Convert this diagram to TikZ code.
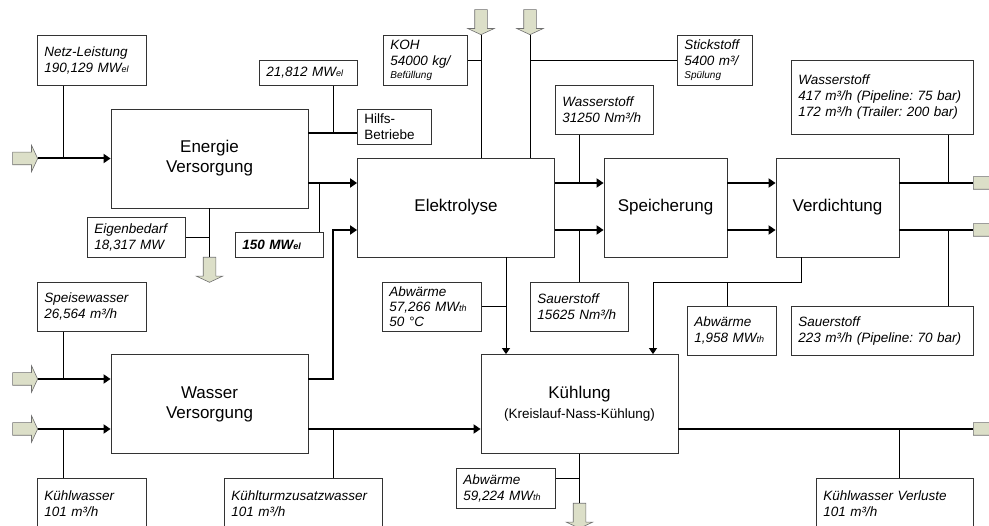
\documentclass[tikz,border=0pt]{standalone}
\usepackage{fontspec}
\setmainfont{Liberation Sans}
\usetikzlibrary{arrows.meta, shapes.arrows, positioning}
\definecolor{boxline}{HTML}{333333}
\definecolor{feedfill}{HTML}{DCDFC8}
\definecolor{feedline}{HTML}{6F6F6F}
\newcommand{\unitsub}[1]{{\fontsize{9}{9}\selectfont #1}}
\frenchspacing

\begin{document}
\begin{tikzpicture}[x=1pt, y=-1pt,
  unit/.style={rectangle, draw=boxline, line width=0.8pt, minimum width=197pt,
               minimum height=99pt, align=center, font=\fontsize{17}{20}\selectfont},
  info/.style={rectangle, draw=boxline, line width=0.8pt, anchor=north west,
               align=left, inner xsep=7pt, inner ysep=1pt,
               font=\fontsize{13.5}{16}\selectfont\itshape},
  feed/.style={single arrow, draw=feedline, fill=feedfill, line width=0.6pt,
               minimum height=25pt, inner sep=6pt, single arrow head extend=7pt,
               single arrow tip angle=130},
  flow/.style={line width=2pt, -{Triangle[length=7pt,width=9pt]}},
  main/.style={line width=2pt},
  tap/.style={line width=0.9pt},
  drop/.style={line width=0.9pt, -{Triangle[length=6pt,width=8pt]}}
]
\useasboundingbox (0,0) rectangle (989,526);

% process units
\node[unit] (energie) at (209.5,158.5) {Energie\\Versorgung};
\node[unit] (elektrolyse) at (456,207.5) {Elektrolyse};
\node[unit, minimum width=123pt] (speicherung) at (665.5,207.5) {Speicherung};
\node[unit, minimum width=123pt] (verdichtung) at (837.5,207.5) {Verdichtung};
\node[unit] (wasser) at (209.5,404) {Wasser\\Versorgung};
\node[unit] (kuehlung) at (579.5,404) {K\"uhlung\\{\fontsize{13.5}{16}\selectfont (Kreislauf-Nass-K\"uhlung)}};

% data boxes
\node[info, text width=95pt, minimum height=50pt] (netz) at (37,35) {Netz-Leistung\\190,129 MW\unitsub{el}};
\node[info, text width=84pt, minimum height=25pt] (mw21) at (259,60) {21,812 MW\unitsub{el}};
\node[info, text width=60pt, minimum height=35pt, font=\fontsize{13.5}{16}\selectfont] (hilfs) at (357,109) {Hilfs-\\Betriebe};
\node[info, text width=84pt, minimum height=40pt] (eigen) at (87,217) {Eigenbedarf\\18,317 MW};
\node[info, text width=74pt, minimum height=25pt, font=\fontsize{13.5}{16}\selectfont\bfseries\itshape] (mw150) at (235,232) {150 MW\unitsub{el}};
\node[info, text width=70pt, minimum height=50pt] (koh) at (383,35) {KOH\\54000 kg/\\[-3pt]{\fontsize{10}{11}\selectfont Bef\"ullung}};
\node[info, text width=61pt, minimum height=50pt] (stick) at (677,35) {Stickstoff\\5400 m³/\\[-3pt]{\fontsize{10}{11}\selectfont Sp\"ulung}};
\node[info, text width=84pt, minimum height=49pt] (h2a) at (555,85) {Wasserstoff\\31250 Nm³/h};
\node[info, text width=168pt, minimum height=74pt] (h2b) at (791,60) {Wasserstoff\\417 m³/h (Pipeline: 75 bar)\\172 m³/h (Trailer: 200 bar)};
\node[info, text width=85pt, minimum height=49pt, font=\fontsize{13.5}{15}\selectfont\itshape] (abw1) at (382,282) {Abw\"arme\\57,266 MW\unitsub{th}\\50 °C};
\node[info, text width=84pt, minimum height=49pt] (o2a) at (530,282) {Sauerstoff\\15625 Nm³/h};
\node[info, text width=75pt, minimum height=49pt] (abw2) at (687,306) {Abw\"arme\\1,958 MW\unitsub{th}};
\node[info, text width=168pt, minimum height=49pt] (o2b) at (791,306) {Sauerstoff\\223 m³/h (Pipeline: 70 bar)};
\node[info, text width=95pt, minimum height=49pt] (speise) at (37,282) {Speisewasser\\26,564 m³/h};
\node[info, text width=95pt, minimum height=50pt] (kuehlw) at (37,478) {K\"uhlwasser\\101 m³/h};
\node[info, text width=144pt, minimum height=50pt] (zusatz) at (224,478) {K\"uhlturmzusatzwasser\\101 m³/h};
\node[info, text width=143pt, minimum height=50pt] (verluste) at (816,478) {K\"uhlwasser Verluste\\101 m³/h};
\node[info, text width=85pt, minimum height=40pt] (abw3) at (456,468) {Abw\"arme\\59,224 MW\unitsub{th}};

% feed and exit arrows
\node[feed, anchor=tip] (inE) at (38,158.5) {};
\node[feed, anchor=tip] (inW1) at (38,379) {};
\node[feed, anchor=tip] (inW2) at (38,429) {};
\node[feed, shape border rotate=270, anchor=tip] (inK) at (481,35) {};
\node[feed, shape border rotate=270, anchor=tip] (inS) at (530,35) {};
\node[feed, shape border rotate=270, anchor=tail] (outE) at (209.5,257) {};
\node[feed, shape border rotate=270, anchor=tail] (outA) at (579.5,503) {};
\node[feed, anchor=tail] (outH) at (973,183) {};
\node[feed, anchor=tail] (outO) at (973,230) {};
\node[feed, anchor=tail] (outK) at (973,429) {};

% junction points
\coordinate (hb) at ([yshift=25pt]energie.east);
\coordinate (e1) at ([yshift=-24.5pt]energie.east);
\coordinate (e2) at ([yshift=-22.5pt]elektrolyse.west);
\coordinate (s1) at ([yshift=24.5pt]elektrolyse.east);
\coordinate (s2) at ([yshift=-22.5pt]elektrolyse.east);
\coordinate (w1) at ([yshift=25pt]wasser.east);
\coordinate (w2) at ([yshift=-25pt]wasser.east);
\coordinate (k1) at ([xshift=50pt]elektrolyse.south);
\coordinate (k2) at ([yshift=-25pt]kuehlung.east);
\coordinate (v1) at ([xshift=-36.5pt]verdichtung.south);
\coordinate (v2) at ([yshift=-25pt]v1);
\coordinate (netzT) at ([xshift=-28.5pt]netz.south);
\coordinate (mw21T) at ([xshift=25pt]mw21.south);
\coordinate (m150T) at ([xshift=40pt]mw150.north);
\coordinate (speiseT) at ([xshift=-28.5pt]speise.south);
\coordinate (kuehlwT) at ([xshift=-28.5pt]kuehlw.north);
\coordinate (zusatzT) at ([xshift=30pt]zusatz.north);
\coordinate (h2aT) at ([xshift=-25pt]h2a.south);
\coordinate (h2bT) at ([xshift=66pt]h2b.south);
\coordinate (o2bT) at ([xshift=66pt]o2b.north);
\coordinate (abw2T) at ([xshift=-4.5pt]abw2.north);
\coordinate (abw3T) at ([yshift=10pt]abw3.east);
\coordinate (verlT) at ([xshift=4.5pt]verluste.north);

% energy supply
\draw[flow] (inE.tip) -- (energie.west);
\draw[tap] (netzT) -- (netzT |- energie.west);
\draw[main] (hb) -- (hb -| hilfs.west);
\draw[tap] (mw21T) -- (mw21T |- hb);
\draw[flow] (e1) -- (e1 -| elektrolyse.west);
\draw[tap] (m150T) -- (m150T |- e1);
\draw[tap] (energie.south) -- (outE.tail);
\draw[tap] (eigen.east) -- (eigen.east -| energie.south);

% water supply
\draw[flow] (inW1.tip) -- (inW1.tip -| wasser.west);
\draw[flow] (inW2.tip) -- (inW2.tip -| wasser.west);
\draw[tap] (speiseT) -- (speiseT |- w1);
\draw[tap] (kuehlwT) -- (kuehlwT |- w2);
\draw[flow] (w1) -- ++(25,0) |- (e2);
\draw[flow] (w2) -- (w2 -| kuehlung.west);
\draw[tap] (zusatzT) -- (zusatzT |- w2);

% electrolysis
\draw[tap] (inK.tip) -- (inK.tip |- elektrolyse.north);
\draw[tap] (inS.tip) -- (inS.tip |- elektrolyse.north);
\draw[tap] (koh.east) -- (koh.east -| inK.tip);
\draw[tap] (stick.west) -- (stick.west -| inS.tip);
\draw[flow] (s1) -- (s1 -| speicherung.west);
\draw[flow] (s2) -- (s2 -| speicherung.west);
\draw[tap] (h2aT) -- (h2aT |- s1);
\draw[tap] (o2a.north) -- (o2a.north |- s2);

% storage and compression
\draw[flow] (s1 -| speicherung.east) -- (s1 -| verdichtung.west);
\draw[flow] (s2 -| speicherung.east) -- (s2 -| verdichtung.west);
\draw[main] (s1 -| verdichtung.east) -- (outH.tail);
\draw[main] (s2 -| verdichtung.east) -- (outO.tail);
\draw[tap] (h2bT) -- (h2bT |- s1);
\draw[tap] (o2bT) -- (o2bT |- s2);

% cooling
\draw[drop] (k1) -- (k1 |- kuehlung.north);
\draw[tap] (abw1.east) -- (abw1.east -| k1);
\draw[drop] (v1) -- (v2) -| ([xshift=73.5pt]kuehlung.north);
\draw[tap] (abw2T) -- (abw2T |- v2);
\draw[main] (k2) -- (outK.tail);
\draw[tap] (verlT) -- (verlT |- k2);
\draw[tap] (kuehlung.south) -- (outA.tail);
\draw[tap] (abw3T) -- (abw3T -| kuehlung.south);

\end{tikzpicture}
\end{document}
